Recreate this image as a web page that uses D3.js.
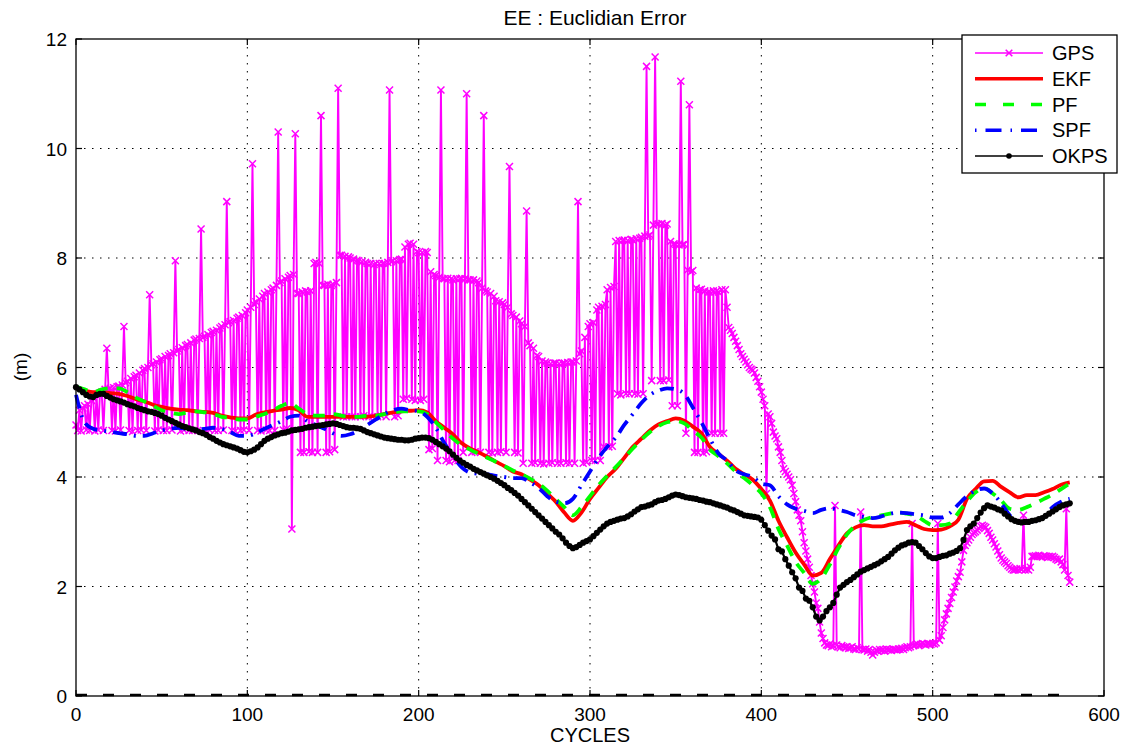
<!DOCTYPE html>
<html><head><meta charset="utf-8">
<script src="https://cdn.jsdelivr.net/npm/d3@7"></script>
<style>
body{margin:0;background:#fff}
text{font-family:"Liberation Sans",Arial,Helvetica,sans-serif;fill:#000}
</style>
</head><body>
<svg id="chart" width="1132" height="747"></svg>
<script>
// ---------- data ----------
const title = "EE : Euclidian Error";
const xLabel = "CYCLES";
const yLabel = "(m)";
const xTicks = [0,100,200,300,400,500,600];
const yTicks = [0,2,4,6,8,10,12];
const seriesNames = ["GPS","EKF","PF","SPF","OKPS"];

// GPS error, one value per cycle (0..580)
const gps = [
4.95,4.85,5.22,4.84,5.26,5.3,4.86,5.33,4.85,5.4,
5.45,4.84,5.5,4.86,5.53,5.55,4.85,5.6,6.35,5.6,
5.62,4.85,5.63,4.84,5.65,5.66,4.86,5.68,6.75,5.72,
5.75,4.85,5.8,4.83,5.83,5.86,4.85,5.9,4.86,5.95,
5.98,4.85,6.0,7.33,6.05,6.07,4.84,6.1,4.86,6.14,
6.16,4.85,6.2,4.85,6.22,6.25,4.86,6.27,7.95,6.3,
6.33,4.84,6.36,4.86,6.4,6.42,4.85,6.45,4.85,6.5,
6.52,4.85,6.53,8.53,6.55,6.57,4.84,6.6,4.86,6.64,
6.66,4.85,6.68,4.85,6.72,6.75,4.86,6.78,9.03,6.82,
6.84,4.85,6.86,4.84,6.9,6.92,4.85,6.95,4.86,7.0,
7.05,4.85,7.1,9.72,7.15,7.2,4.85,7.25,4.84,7.3,
7.35,4.86,7.38,4.85,7.42,7.45,4.85,7.5,10.3,7.55,
7.58,4.86,7.62,4.88,7.65,7.68,3.05,7.7,10.27,7.35,
7.35,4.45,7.38,4.45,7.4,7.38,4.46,7.4,4.45,7.9,
7.92,4.45,7.9,10.6,7.5,7.5,4.45,7.52,4.46,7.5,
7.52,4.5,7.55,11.1,8.05,8.05,5.1,8.03,5.1,8.02,
8.0,5.1,7.98,5.1,7.96,7.95,5.1,7.93,5.12,7.92,
7.9,5.1,7.9,5.1,7.88,7.9,5.1,7.9,5.12,7.9,
7.9,5.1,7.92,11.07,7.93,7.95,5.1,7.95,5.12,7.97,
7.98,5.42,8.2,5.44,8.25,8.27,5.42,8.25,5.4,8.12,
8.1,5.4,8.1,5.42,8.12,8.1,4.5,7.75,4.52,7.7,
7.68,4.3,7.65,11.07,7.62,7.62,4.3,7.63,4.28,7.62,
7.6,4.3,7.62,4.3,7.62,7.63,4.45,7.62,11.0,7.6,
7.6,4.45,7.6,4.46,7.58,7.55,4.45,7.45,10.6,7.4,
7.38,4.45,7.35,4.44,7.3,7.22,4.45,7.2,4.46,7.18,
7.15,4.45,7.1,9.67,6.98,6.95,4.45,6.92,4.44,6.85,
6.8,4.25,6.75,8.86,6.45,6.4,4.25,6.35,4.26,6.22,
6.2,4.25,6.12,4.24,6.1,6.08,4.25,6.07,4.26,6.08,
6.08,4.25,6.07,4.25,6.08,6.08,4.26,6.09,4.25,6.1,
6.1,4.25,6.12,9.03,6.25,6.3,4.25,6.55,4.27,6.75,
6.8,4.3,6.82,4.3,7.05,7.1,4.3,7.12,4.55,7.15,
7.42,4.55,7.46,4.56,7.48,8.3,5.52,8.32,5.5,8.32,
8.33,5.52,8.32,5.52,8.34,8.33,5.52,8.35,5.51,8.36,
8.38,5.52,8.4,11.5,8.4,8.42,5.76,8.6,11.67,8.62,
8.62,5.76,8.63,5.76,8.6,8.62,5.77,8.3,5.3,8.26,
8.25,5.3,8.24,11.23,8.24,8.25,4.8,7.78,10.8,7.75,
7.77,4.45,7.45,4.45,7.42,7.43,4.44,7.4,4.46,7.38,
7.38,4.8,7.4,4.8,7.4,7.38,4.8,7.42,4.8,7.42,
7.1,6.73,6.68,6.62,6.55,6.48,6.4,6.33,6.25,6.2,
6.15,6.1,6.05,6.0,5.97,5.95,5.9,5.82,5.75,5.65,
5.55,5.42,5.3,3.7,5.15,5.1,4.98,4.82,4.75,4.7,
4.55,4.45,4.3,4.15,4.1,4.05,4.0,3.95,3.85,3.7,
3.55,3.4,3.3,3.2,3.0,2.8,2.65,2.5,2.35,2.2,
2.05,1.9,1.7,1.6,1.35,1.15,1.05,0.97,0.93,0.92,
0.95,0.9,0.92,3.48,0.93,0.9,0.88,0.92,0.9,0.88,
0.9,0.87,0.88,0.9,0.86,0.85,0.88,0.86,3.36,0.85,
0.84,0.86,0.82,0.85,0.8,0.75,0.8,0.84,0.82,0.85,
0.83,0.85,0.82,0.86,0.84,0.85,0.83,0.86,0.85,0.84,
0.86,0.85,0.87,0.85,0.88,0.9,0.88,0.9,3.15,0.92,
0.93,0.95,0.92,0.94,0.96,0.95,0.93,0.96,0.95,0.94,
0.96,0.95,0.97,3.15,1.02,1.1,1.25,1.39,1.5,1.6,
1.69,1.8,1.9,1.99,2.1,2.18,2.26,2.45,2.66,2.75,
2.8,2.85,2.9,2.95,2.98,3.0,3.03,3.06,3.1,3.12,
3.1,3.08,3.02,2.97,2.9,2.85,2.78,2.72,2.65,2.58,
2.52,2.48,2.45,2.42,2.38,2.35,2.32,2.3,2.3,2.32,
2.3,2.33,2.31,3.3,2.3,2.32,2.3,2.35,2.55,2.55,
2.56,2.55,2.57,2.55,2.54,2.56,2.55,2.53,2.55,2.54,
2.55,2.53,2.5,2.48,2.5,2.45,2.4,2.3,3.42,2.2,
2.08];
const gpsStep = 1;

// EKF, PF, SPF: one value every 5 cycles (0..580)
const ekf = [
5.62,5.58,5.55,5.55,5.53,5.52,5.48,5.42,5.38,5.32,
5.28,5.25,5.23,5.22,5.2,5.19,5.17,5.12,5.09,5.07,
5.07,5.14,5.18,5.21,5.23,5.26,5.22,5.1,5.1,5.1,
5.1,5.1,5.1,5.1,5.1,5.12,5.15,5.18,5.2,5.21,
5.22,5.18,5.02,4.9,4.78,4.62,4.52,4.45,4.37,4.28,
4.2,4.1,4.05,3.95,3.85,3.7,3.55,3.35,3.2,3.35,
3.6,3.8,4.0,4.15,4.35,4.55,4.7,4.85,4.96,5.02,
5.07,5.03,4.92,4.8,4.55,4.42,4.3,4.15,4.05,3.95,
3.78,3.57,3.2,2.9,2.62,2.4,2.2,2.25,2.5,2.75,
2.97,3.08,3.12,3.1,3.1,3.13,3.16,3.18,3.12,3.05,
3.03,3.04,3.1,3.22,3.6,3.78,3.92,3.93,3.82,3.72,
3.63,3.67,3.67,3.72,3.78,3.86,3.9];
const pf = [
5.65,5.6,5.55,5.6,5.62,5.62,5.55,5.45,5.38,5.3,
5.22,5.18,5.15,5.18,5.2,5.18,5.15,5.1,5.08,5.05,
5.05,5.1,5.15,5.22,5.3,5.35,5.25,5.15,5.12,5.12,
5.15,5.12,5.1,5.1,5.12,5.12,5.15,5.18,5.2,5.2,
5.2,5.15,5.0,4.85,4.7,4.58,4.5,4.42,4.35,4.28,
4.2,4.12,4.05,3.97,3.88,3.75,3.6,3.45,3.3,3.45,
3.65,3.85,4.02,4.18,4.35,4.52,4.68,4.82,4.93,5.0,
5.02,4.98,4.85,4.72,4.5,4.38,4.25,4.1,3.98,3.85,
3.7,3.45,3.05,2.75,2.45,2.25,2.05,2.15,2.4,2.7,
2.95,3.12,3.22,3.27,3.3,3.33,3.35,3.33,3.3,3.2,
3.12,3.12,3.15,3.35,3.55,3.72,3.8,3.7,3.57,3.42,
3.4,3.45,3.52,3.6,3.68,3.78,3.88];
const spf = [
5.5,5.0,4.88,4.85,4.83,4.8,4.78,4.75,4.75,4.8,
4.85,4.88,4.9,4.88,4.87,4.88,4.9,4.88,4.82,4.75,
4.75,4.8,4.88,4.95,5.02,5.1,5.12,5.02,4.95,4.88,
4.8,4.75,4.78,4.85,4.95,5.05,5.15,5.22,5.25,5.22,
5.2,5.1,4.9,4.62,4.38,4.18,4.08,4.06,4.05,4.02,
4.0,3.98,3.98,3.9,3.8,3.65,3.55,3.52,3.6,3.85,
4.1,4.35,4.55,4.72,4.95,5.15,5.35,5.5,5.58,5.62,
5.6,5.52,5.27,5.0,4.7,4.43,4.3,4.12,4.05,4.0,
3.88,3.85,3.65,3.5,3.42,3.38,3.34,3.4,3.43,3.4,
3.36,3.3,3.27,3.25,3.28,3.33,3.35,3.34,3.32,3.3,
3.26,3.26,3.34,3.5,3.65,3.75,3.79,3.7,3.52,3.3,
3.18,3.18,3.2,3.27,3.45,3.55,3.6];
const filterStep = 5;

// OKPS: one value every 2 cycles (0..580)
const okps = [
5.64,5.6,5.55,5.5,5.47,5.46,5.5,5.52,5.52,5.48,
5.45,5.42,5.4,5.38,5.36,5.33,5.31,5.29,5.26,5.24,
5.22,5.2,5.19,5.17,5.15,5.12,5.08,5.05,5.02,4.99,
4.96,4.93,4.91,4.89,4.87,4.85,4.82,4.8,4.77,4.73,
4.7,4.66,4.63,4.6,4.58,4.56,4.54,4.52,4.49,4.46,
4.45,4.47,4.5,4.54,4.6,4.66,4.7,4.73,4.76,4.78,
4.8,4.81,4.83,4.85,4.86,4.87,4.88,4.9,4.91,4.92,
4.93,4.94,4.95,4.96,4.97,4.98,4.97,4.95,4.93,4.91,
4.9,4.9,4.89,4.88,4.85,4.82,4.8,4.78,4.76,4.74,
4.72,4.71,4.7,4.69,4.68,4.68,4.67,4.67,4.68,4.7,
4.71,4.72,4.72,4.71,4.68,4.64,4.6,4.56,4.52,4.47,
4.41,4.35,4.3,4.26,4.22,4.19,4.15,4.12,4.09,4.06,
4.03,4.0,3.97,3.93,3.89,3.85,3.8,3.76,3.71,3.66,
3.6,3.54,3.48,3.42,3.36,3.3,3.24,3.18,3.12,3.06,
3.0,2.95,2.88,2.8,2.74,2.7,2.72,2.76,2.8,2.83,
2.86,2.92,2.98,3.04,3.1,3.15,3.18,3.2,3.22,3.24,
3.25,3.28,3.32,3.37,3.41,3.45,3.46,3.48,3.5,3.54,
3.57,3.58,3.6,3.63,3.66,3.68,3.67,3.65,3.63,3.62,
3.61,3.6,3.58,3.57,3.55,3.54,3.52,3.5,3.48,3.46,
3.44,3.41,3.39,3.36,3.33,3.3,3.29,3.28,3.27,3.26,
3.22,3.12,3.02,2.93,2.86,2.68,2.64,2.5,2.38,2.26,
2.15,1.98,1.92,1.78,1.74,1.62,1.45,1.38,1.45,1.55,
1.62,1.7,1.85,1.98,2.03,2.08,2.12,2.17,2.22,2.27,
2.3,2.33,2.36,2.39,2.42,2.46,2.5,2.54,2.6,2.66,
2.71,2.75,2.77,2.8,2.81,2.8,2.74,2.68,2.61,2.55,
2.52,2.52,2.54,2.56,2.57,2.6,2.62,2.65,2.7,2.85,
3.03,3.1,3.15,3.25,3.35,3.43,3.48,3.46,3.44,3.41,
3.39,3.33,3.28,3.23,3.2,3.18,3.17,3.18,3.18,3.2,
3.21,3.23,3.25,3.29,3.33,3.37,3.41,3.45,3.48,3.5,
3.52];
const okpsStep = 2;

// zero reference line (dashed black)
const zeroLine = [0,0];
const zeroLineCycles = [0,580];

// ---------- chart ----------
const svg = d3.select("#chart");
const M = {left:76, right:1104, top:39, bottom:696};
const x = d3.scaleLinear().domain([0,600]).range([M.left,M.right]);
const y = d3.scaleLinear().domain([0,12]).range([M.bottom,M.top]);

svg.append("rect").attr("width",1132).attr("height",747).attr("fill","#fff");

// grid
const grid = svg.append("g");
grid.selectAll(".gx").data(xTicks.slice(1,-1)).join("line")
  .attr("x1",d=>x(d)).attr("x2",d=>x(d)).attr("y1",M.top).attr("y2",M.bottom)
  .attr("stroke","#000").attr("stroke-width",1).attr("stroke-dasharray","1.5,6.5");
grid.selectAll(".gy").data(yTicks.slice(1,-1)).join("line")
  .attr("y1",d=>y(d)).attr("y2",d=>y(d)).attr("x1",M.left).attr("x2",M.right)
  .attr("stroke","#000").attr("stroke-width",1).attr("stroke-dasharray","1.5,6.5");

const plot = svg.append("g");

// GPS
const gpsPts = gps.map((v,i)=>[i*gpsStep,v]);
plot.append("path").datum(gpsPts)
  .attr("d",d3.line().x(d=>x(d[0])).y(d=>y(d[1])))
  .attr("fill","none").attr("stroke","#ff00ff").attr("stroke-width",1.9);
plot.append("g").selectAll("path").data(gpsPts).join("path")
  .attr("transform",d=>`translate(${x(d[0])},${y(d[1])})`)
  .attr("d","M-3.5,-3.5L3.5,3.5M-3.5,3.5L3.5,-3.5")
  .attr("stroke","#ff00ff").attr("stroke-width",1.5).attr("fill","none");

const lineGen = d3.line().x(d=>x(d[0])).y(d=>y(d[1])).curve(d3.curveMonotoneX);

// EKF
plot.append("path").datum(ekf.map((v,i)=>[i*filterStep,v]))
  .attr("d",lineGen).attr("fill","none").attr("stroke","#ff0000").attr("stroke-width",3.8);
// PF
plot.append("path").datum(pf.map((v,i)=>[i*filterStep,v]))
  .attr("d",lineGen).attr("fill","none").attr("stroke","#00ff00").attr("stroke-width",3.8)
  .attr("stroke-dasharray","12,9");
// SPF
plot.append("path").datum(spf.map((v,i)=>[i*filterStep,v]))
  .attr("d",lineGen).attr("fill","none").attr("stroke","#0000ff").attr("stroke-width",3.8)
  .attr("stroke-dasharray","14,7,2,7");
// OKPS
const okPts = okps.map((v,i)=>[i*okpsStep,v]);
plot.append("path").datum(okPts)
  .attr("d",d3.line().x(d=>x(d[0])).y(d=>y(d[1])))
  .attr("fill","none").attr("stroke","#000").attr("stroke-width",2.2);
plot.append("g").selectAll("circle").data(okPts).join("circle")
  .attr("cx",d=>x(d[0])).attr("cy",d=>y(d[1])).attr("r",3.1).attr("fill","#000");

// zero dashed line
plot.append("path").datum(zeroLineCycles.map((c,i)=>[c,zeroLine[i]]))
  .attr("d",d3.line().x(d=>x(d[0])).y(d=>y(d[1])-1))
  .attr("fill","none").attr("stroke","#000").attr("stroke-width",2.5).attr("stroke-dasharray","11,16");

// axes box and ticks (inward)
const ax = svg.append("g");
ax.append("rect").attr("x",M.left).attr("y",M.top).attr("width",M.right-M.left).attr("height",M.bottom-M.top)
  .attr("fill","none").attr("stroke","#000").attr("stroke-width",1.3);
const tl = 6;
xTicks.forEach(t=>{
  ax.append("line").attr("x1",x(t)).attr("x2",x(t)).attr("y1",M.bottom).attr("y2",M.bottom-tl).attr("stroke","#000").attr("stroke-width",1.2);
  ax.append("line").attr("x1",x(t)).attr("x2",x(t)).attr("y1",M.top).attr("y2",M.top+tl).attr("stroke","#000").attr("stroke-width",1.2);
});
yTicks.forEach(t=>{
  ax.append("line").attr("y1",y(t)).attr("y2",y(t)).attr("x1",M.left).attr("x2",M.left+tl).attr("stroke","#000").attr("stroke-width",1.2);
  ax.append("line").attr("y1",y(t)).attr("y2",y(t)).attr("x1",M.right).attr("x2",M.right-tl).attr("stroke","#000").attr("stroke-width",1.2);
});
ax.selectAll(".xl").data(xTicks).join("text")
  .attr("x",d=>x(d)).attr("y",M.bottom+25).attr("text-anchor","middle")
  .attr("font-size",19).text(d=>d);
ax.selectAll(".yl").data(yTicks).join("text")
  .attr("x",M.left-9).attr("y",d=>y(d)+7).attr("text-anchor","end")
  .attr("font-size",19).text(d=>d);

// titles
svg.append("text").attr("x",595).attr("y",25).attr("text-anchor","middle").attr("font-size",21).text(title);
svg.append("text").attr("x",590).attr("y",742).attr("text-anchor","middle").attr("font-size",20).text(xLabel);
svg.append("text").attr("transform","translate(27,367) rotate(-90)").attr("text-anchor","middle").attr("font-size",19).text(yLabel);

// legend
const lg = svg.append("g");
lg.append("rect").attr("x",962).attr("y",35).attr("width",155).attr("height",138)
  .attr("fill","#fff").attr("stroke","#000").attr("stroke-width",1.3);
const rowY = d3.scalePoint().domain(seriesNames).range([53,156]);
const styles = {
  GPS:{c:"#ff00ff",w:1.6,dash:null},
  EKF:{c:"#ff0000",w:3.6,dash:null},
  PF:{c:"#00ff00",w:3.6,dash:"11,17"},
  SPF:{c:"#0000ff",w:3.6,dash:"1.5,9,16,9"},
  OKPS:{c:"#000",w:1.6,dash:null}
};
seriesNames.forEach(n=>{
  const s = styles[n], yy = rowY(n);
  const l = lg.append("line").attr("x1",975).attr("x2",1043).attr("y1",yy).attr("y2",yy)
    .attr("stroke",s.c).attr("stroke-width",s.w);
  if (s.dash) l.attr("stroke-dasharray",s.dash);
  if (n==="GPS") lg.append("path").attr("transform",`translate(1009,${yy})`)
    .attr("d","M-3.3,-3.3L3.3,3.3M-3.3,3.3L3.3,-3.3").attr("stroke",s.c).attr("stroke-width",1.6);
  if (n==="OKPS") lg.append("circle").attr("cx",1009).attr("cy",yy).attr("r",2.8).attr("fill","#000");
  lg.append("text").attr("x",1052).attr("y",yy+7).attr("font-size",20).text(n);
});
</script>
</body></html>
